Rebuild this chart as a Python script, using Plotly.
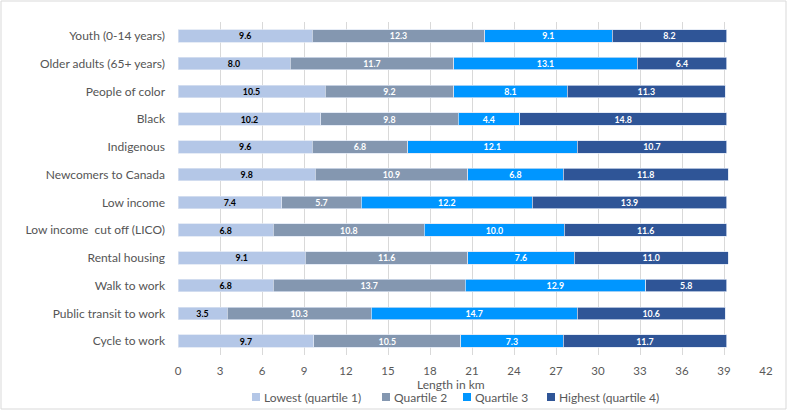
import plotly.graph_objects as go

categories = ["Youth (0-14 years)", "Older adults (65+ years)", "People of color", "Black",
              "Indigenous", "Newcomers to Canada", "Low income", "Low income  cut off (LICO)",
              "Rental housing", "Walk to work", "Public transit to work", "Cycle to work"]
q1 = [9.6, 8.0, 10.5, 10.2, 9.6, 9.8, 7.4, 6.8, 9.1, 6.8, 3.5, 9.7]
q2 = [12.3, 11.7, 9.2, 9.8, 6.8, 10.9, 5.7, 10.8, 11.6, 13.7, 10.3, 10.5]
q3 = [9.1, 13.1, 8.1, 4.4, 12.1, 6.8, 12.2, 10.0, 7.6, 12.9, 14.7, 7.3]
q4 = [8.2, 6.4, 11.3, 14.8, 10.7, 11.8, 13.9, 11.6, 11.0, 5.8, 10.6, 11.7]
series_names = ["Lowest (quartile 1)", "Quartile 2", "Quartile 3", "Highest (quartile 4)"]
x_ticks = list(range(0, 43, 3))
x_title = "Length in km"

colors = ["#B4C7E7", "#8497B0", "#0096FF", "#2F5597"]
text_colors = ["#000000", "#FFFFFF", "#FFFFFF", "#FFFFFF"]
FONT = "Lato"

# layout geometry (pixels)
W, H = 787, 411
L, R, T, B = 178, 21, 22, 56
PW, PH = W - L - R, H - T - B


def px_x(p):
    return (p - L) / PW


def px_y(p):
    return (H - B - p) / PH


fig = go.Figure()
for name, vals, c, tc in zip(series_names, [q1, q2, q3, q4], colors, text_colors):
    fig.add_trace(go.Bar(
        y=categories, x=vals, name=name, orientation="h",
        marker=dict(color=c, line=dict(color="rgba(220,228,242,0.9)", width=0.8)),
        width=0.45,
        text=[f"<b>{v:.1f}</b>" for v in vals],
        textposition="inside", insidetextanchor="middle", textangle=0,
        constraintext="none",
        textfont=dict(family=FONT, size=8.8, color=tc),
        hoverinfo="x+name", showlegend=False,
    ))

# custom legend (small squares + labels), like the reference
legend_px = [252, 382, 463, 547]
shapes = [dict(type="rect", xref="paper", yref="paper", x0=px_x(1), x1=px_x(W - 1),
               y0=px_y(H - 2), y1=px_y(1), line=dict(color="#D9D9D9", width=1),
               layer="below")]
annotations = [dict(text=x_title, x=px_x(451), xref="paper", y=px_y(384), yref="paper",
                    showarrow=False, xanchor="center", yanchor="middle",
                    font=dict(size=12, color="#595959"))]
for name, c, lx in zip(series_names, colors, legend_px):
    shapes.append(dict(type="rect", xref="paper", yref="paper",
                       x0=px_x(lx), x1=px_x(lx + 8), y0=px_y(401), y1=px_y(393),
                       fillcolor=c, line=dict(width=0)))
    annotations.append(dict(text=name, x=px_x(lx + 10), xref="paper", y=px_y(397),
                            yref="paper", showarrow=False, xanchor="left",
                            yanchor="middle", font=dict(size=12, color="#595959")))

fig.update_layout(
    barmode="stack",
    width=W, height=H,
    margin=dict(l=L, r=R, t=T, b=B, autoexpand=False),
    plot_bgcolor="white", paper_bgcolor="white",
    font=dict(family=FONT, color="#595959"),
    showlegend=False,
    xaxis=dict(range=[0, 42], tickvals=x_ticks, showgrid=True, gridcolor="#D9D9D9",
               gridwidth=1, zeroline=False, showline=False, automargin=False,
               tickfont=dict(size=11.5, color="#595959"), ticks="", ticklabelstandoff=7),
    yaxis=dict(autorange="reversed", showgrid=False, zeroline=False, automargin=False,
               tickfont=dict(size=12, color="#555555"), ticks="", ticklabelstandoff=12,
               showline=False),
    annotations=annotations,
    shapes=shapes,
    bargap=0.55,
)

fig.write_html("out.html", config={"displayModeBar": False},
               post_script="document.body.style.margin='0';")
